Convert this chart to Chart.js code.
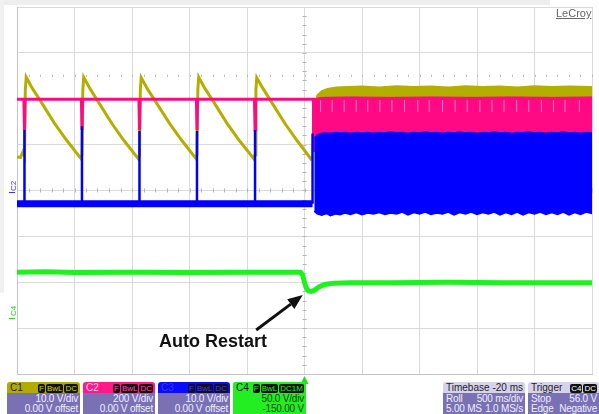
<!DOCTYPE html>
<html>
<head>
<meta charset="utf-8">
<script src="https://cdn.jsdelivr.net/npm/chart.js@4.4.1/dist/chart.umd.min.js"></script>
<style>
    html, body { margin: 0; padding: 0; background: #fff; }
    body { width: 599px; height: 414px; position: relative; overflow: hidden; font-family: "Liberation Sans", Arial, sans-serif; }
    #scope { position: absolute; left: 0; top: 0; }
    .strip-top { position: absolute; left: 0; top: 0; width: 550px; height: 5px; background: #eeeeee; }
    .strip-left { position: absolute; left: 0; top: 0; width: 4px; height: 293px; background: #f1f1f1; }
    .logo { position: absolute; left: 556px; top: 7px; font-size: 11px; color: #666; text-decoration: underline; }
    .tag { position: absolute; font-size: 8px; transform: rotate(-90deg); transform-origin: left top; }
    .tag-mark { position: absolute; width: 6px; height: 1px; }
    .note { position: absolute; left: 159px; top: 331px; font-size: 18px; font-weight: bold; color: #111; }
    .box { position: absolute; top: 382px; height: 32px; border-radius: 3px 3px 0 0; overflow: hidden; font-size: 10px; }
    .box .hd { height: 11px; line-height: 11px; padding: 0 2px 0 3px; display: flex; justify-content: space-between; align-items: center; white-space: nowrap; }
    .box .bd { background: #7a71b5; color: #eeeeff; padding: 1px 2px 0 3px; line-height: 10px; height: 20px; letter-spacing: -0.2px; }
    .box .row { display: flex; justify-content: space-between; white-space: nowrap; }
    .box .rt { text-align: right; white-space: nowrap; }
    .badge { background: #111; border-radius: 2px; padding: 0 1px; font-size: 8px; line-height: 9px; margin-left: 1px; display: inline-block; }
</style>
</head>
<body>
<canvas id="scope" width="599" height="414"></canvas>
<div class="strip-top"></div>
<div class="strip-left"></div>
<div class="logo">LeCroy</div>

<div class="tag" style="left:9px; top:191px; color:#3030ff;">C2</div>
<div class="tag-mark" style="left:9px; top:192px; background:#3030ff;"></div>
<div class="tag" style="left:9px; top:316px; color:#22cc22;">C4</div>
<div class="tag-mark" style="left:9px; top:318px; background:#22cc22;"></div>

<div class="note">Auto Restart</div>

<div class="box" style="left:7px; width:73px;">
    <div class="hd" style="background:#b3aa00; color:#222;"><span>C1</span><span><span class="badge" style="color:#d8d000">F</span><span class="badge" style="color:#d8d000">BwL</span><span class="badge" style="color:#d8d000">DC</span></span></div>
    <div class="bd"><div class="rt">10.0 V/div</div><div class="rt">0.00 V offset</div></div>
</div>
<div class="box" style="left:83px; width:72px;">
    <div class="hd" style="background:#ff1a8c; color:#ffd6ea;"><span>C2</span><span><span class="badge" style="color:#ff4aa5">F</span><span class="badge" style="color:#ff4aa5">BwL</span><span class="badge" style="color:#ff4aa5">DC</span></span></div>
    <div class="bd"><div class="rt">200 V/div</div><div class="rt">0.00 V offset</div></div>
</div>
<div class="box" style="left:158px; width:72px;">
    <div class="hd" style="background:#0a0aff; color:#3a3ad0;"><span>C3</span><span><span class="badge" style="color:#3a3aff">F</span><span class="badge" style="color:#3a3aff">BwL</span><span class="badge" style="color:#3a3aff">DC</span></span></div>
    <div class="bd"><div class="rt">10.0 V/div</div><div class="rt">0.00 V offset</div></div>
</div>
<div class="box" style="left:233px; width:73px; background:#22ee22;">
    <div class="hd" style="background:#22ee22; color:#111; justify-content:flex-start;"><span>C4</span><span style="margin-left:3px"><span class="badge" style="color:#22ee22">F</span><span class="badge" style="color:#22ee22">BwL</span><span class="badge" style="color:#22ee22">DC1M</span></span></div>
    <div class="bd" style="background:#22ee22; color:#114411;"><div class="rt">50.0 V/div</div><div class="rt">-150.00 V</div></div>
</div>
<div class="box" style="left:443px; width:82px;">
    <div class="hd" style="background:#d6d2ee; color:#222;"><span>Timebase</span><span>-20 ms</span></div>
    <div class="bd"><div class="row"><span>Roll</span><span>500 ms/div</span></div><div class="row"><span>5.00 MS</span><span>1.0 MS/s</span></div></div>
</div>
<div class="box" style="left:528px; width:71px;">
    <div class="hd" style="background:#d6d2ee; color:#222;"><span>Trigger</span><span><span class="badge" style="color:#fff">C4</span><span class="badge" style="color:#fff">DC</span></span></div>
    <div class="bd"><div class="row"><span>Stop</span><span>56.0 V</span></div><div class="row"><span>Edge</span><span>Negative</span></div></div>
</div>

<script>
// 화면 단위: x = 0..10 div (500 ms/div), y = 0..8 div

// C1 (노랑) 재시작 전 톱니파
const c1X = [0, 0.06, 0.11, 0.13, 0.145, 0.16, 0.27, 0.40, 0.65, 0.86, 1.11,
             1.13, 1.145, 1.16, 1.27, 1.40, 1.65, 1.86, 2.11,
             2.13, 2.145, 2.16, 2.27, 2.40, 2.65, 2.86, 3.11,
             3.13, 3.145, 3.16, 3.27, 3.40, 3.65, 3.86, 4.12,
             4.14, 4.155, 4.17, 4.28, 4.41, 4.66, 4.87, 5.13];
const c1Y = [4.73, 4.72, 4.86, 4.78, 6.20, 6.47, 6.22, 5.97, 5.47, 5.10, 4.70,
             4.78, 6.20, 6.47, 6.22, 5.96, 5.46, 5.09, 4.69,
             4.78, 6.20, 6.46, 6.21, 5.96, 5.47, 5.10, 4.70,
             4.78, 6.20, 6.47, 6.22, 5.97, 5.47, 5.10, 4.69,
             4.78, 6.20, 6.46, 6.22, 5.96, 5.46, 5.09, 4.66];
// C1 재시작 후 밴드 윗선
const c1BandX = [5.13, 5.15, 5.18, 5.22, 5.30, 5.40, 5.55, 5.75, 6.0, 6.3, 6.6, 6.9, 7.2, 7.5, 7.8, 8.1, 8.4, 8.7, 9.0, 9.3, 9.6, 10];
const c1BandTop = [4.66, 5.45, 5.92, 6.08, 6.17, 6.22, 6.25, 6.26, 6.27, 6.25, 6.28, 6.26, 6.27, 6.25, 6.28, 6.26, 6.27, 6.25, 6.28, 6.26, 6.27, 6.26];

// C2 (분홍) 재시작 전 레벨과 스파이크
const c2X = [0, 0.12, 0.13, 0.14, 1.12, 1.13, 1.14, 2.12, 2.13, 2.14, 3.12, 3.13, 3.14, 4.13, 4.14, 4.15, 5.13, 5.16, 5.175, 5.19];
const c2Y = [5.99, 5.99, 5.32, 5.99, 5.99, 5.32, 5.99, 5.99, 5.32, 5.99, 5.99, 5.32, 5.99, 5.99, 5.32, 5.99, 5.99, 5.99, 4.84, 5.99];
const c2BandX = [5.13, 5.3, 5.8, 6.5, 7.2, 7.9, 8.6, 9.3, 10];
const c2BandTop = [5.99, 6.03, 6.04, 6.03, 6.04, 6.03, 6.04, 6.03, 6.04];
// C2 밴드 안 옅은 하향 펄스 위치
const c2TickX = [5.28, 5.48, 5.69, 5.90, 6.10, 6.31, 6.52, 6.74, 6.97, 7.17, 7.40, 7.62, 7.83, 8.05, 8.26, 8.47, 8.69, 8.90, 9.12, 9.33, 9.53, 9.78];
const c2TickLevel = 5.84;

// C3 (파랑) 기저 레벨, 스파이크, 재시작 후 밴드
const c3BaseX = [0, 5.14];
const c3BaseY = [3.71, 3.71];
const c3SpikeX = [0.13, 1.13, 2.13, 3.13, 4.14, 5.14];
const c3SpikeTop = [5.32, 5.40, 5.30, 5.30, 5.32, 5.24];
const c3BandX = [5.17, 5.22, 5.30, 5.38, 5.45, 5.55, 5.62, 5.70, 5.80, 5.90, 6.00, 6.10, 6.20, 6.30, 6.40, 6.50, 6.60, 6.70, 6.80, 6.90, 7.00, 7.10, 7.20, 7.30, 7.40, 7.50, 7.60, 7.70, 7.80, 7.90, 8.00, 8.10, 8.20, 8.30, 8.40, 8.50, 8.60, 8.70, 8.80, 8.90, 9.00, 9.10, 9.20, 9.30, 9.40, 9.50, 9.60, 9.70, 9.80, 9.90, 10];
const c3BandTop = [5.15, 5.22, 5.25, 5.26, 5.25, 5.27, 5.26, 5.27, 5.25, 5.27, 5.26, 5.27, 5.25, 5.27, 5.26, 5.28, 5.26, 5.27, 5.25, 5.27, 5.26, 5.28, 5.26, 5.27, 5.25, 5.27, 5.26, 5.28, 5.26, 5.27, 5.25, 5.27, 5.26, 5.28, 5.26, 5.27, 5.25, 5.27, 5.26, 5.28, 5.26, 5.27, 5.25, 5.27, 5.26, 5.28, 5.26, 5.27, 5.25, 5.27, 5.26];
const c3BandBottom = [3.55, 3.49, 3.46, 3.50, 3.45, 3.49, 3.47, 3.51, 3.48, 3.52, 3.47, 3.51, 3.49, 3.52, 3.48, 3.51, 3.49, 3.53, 3.47, 3.52, 3.49, 3.53, 3.48, 3.51, 3.49, 3.53, 3.47, 3.52, 3.49, 3.53, 3.48, 3.52, 3.49, 3.53, 3.47, 3.52, 3.48, 3.53, 3.47, 3.52, 3.49, 3.53, 3.48, 3.52, 3.48, 3.53, 3.47, 3.52, 3.48, 3.53, 3.50];

// C4 (초록)
const c4X = [0, 0.5, 1, 2, 3, 4, 4.93, 4.97, 5.0, 5.03, 5.07, 5.12, 5.18, 5.25, 5.35, 5.5, 5.8, 6.5, 7.5, 8.5, 10];
const c4Y = [2.22, 2.23, 2.21, 2.22, 2.21, 2.22, 2.22, 2.15, 2.00, 1.88, 1.81, 1.80, 1.83, 1.90, 1.95, 1.98, 1.99, 1.99, 2.00, 1.99, 1.99];

// 주석 화살표 (꼬리, 끝)
const arrowFrom = { x: 4.16, y: 0.96 };
const arrowTo = { x: 4.97, y: 1.72 };

const COLORS = {
    c1: '#b4ae00',
    c2: '#ff0a84',
    c2Tick: '#ff7ebf',
    c3: '#0000ff',
    c4: '#1ff01f',
    grid: '#dadada',
    border: '#c4c4c4'
};

function pts(xs, ys) {
    return xs.map((x, i) => ({ x, y: ys[i] }));
}

function spikeSegments(xs, tops, base) {
    const out = [];
    xs.forEach((x, i) => {
        out.push({ x, y: base }, { x, y: tops[i] }, { x, y: null });
    });
    return out;
}

// 중심축 눈금, 트리거 마커, 화살표
const scopeDecor = {
    id: 'scopeDecor',
    beforeDatasetsDraw(chart) {
        const { ctx, scales: { x, y } } = chart;
        const cx = x.getPixelForValue(5);
        const cy = y.getPixelForValue(4);
        const ry = y.getPixelForValue(6.5);
        ctx.save();
        ctx.strokeStyle = '#b4b4b4';
        ctx.lineWidth = 1;
        ctx.beginPath();
        for (let v = 0.2; v < 10; v += 0.2) {
            const px = Math.round(x.getPixelForValue(v)) + 0.5;
            ctx.moveTo(px, cy - 2); ctx.lineTo(px, cy + 2);
            ctx.moveTo(px, ry - 1); ctx.lineTo(px, ry + 1);
        }
        for (let v = 0.2; v < 8; v += 0.2) {
            const py = Math.round(y.getPixelForValue(v)) + 0.5;
            ctx.moveTo(cx - 2, py); ctx.lineTo(cx + 2, py);
        }
        ctx.stroke();
        ctx.restore();
    },
    afterDraw(chart) {
        const { ctx, scales: { x, y }, chartArea } = chart;
        ctx.save();
        // 트리거 위치 표시
        const tx = x.getPixelForValue(5);
        ctx.fillStyle = '#22dd22';
        ctx.beginPath();
        ctx.moveTo(tx, chartArea.bottom + 2);
        ctx.lineTo(tx - 4, chartArea.bottom + 10);
        ctx.lineTo(tx + 4, chartArea.bottom + 10);
        ctx.closePath();
        ctx.fill();
        // Auto Restart 화살표
        const x0 = x.getPixelForValue(arrowFrom.x), y0 = y.getPixelForValue(arrowFrom.y);
        const x1 = x.getPixelForValue(arrowTo.x), y1 = y.getPixelForValue(arrowTo.y);
        const ang = Math.atan2(y1 - y0, x1 - x0);
        const len = 15, half = 6;
        const bx = x1 - len * Math.cos(ang), by = y1 - len * Math.sin(ang);
        ctx.strokeStyle = '#111';
        ctx.lineWidth = 3;
        ctx.beginPath();
        ctx.moveTo(x0, y0);
        ctx.lineTo(bx, by);
        ctx.stroke();
        ctx.fillStyle = '#111';
        ctx.beginPath();
        ctx.moveTo(x1, y1);
        ctx.lineTo(bx + half * Math.sin(ang), by - half * Math.cos(ang));
        ctx.lineTo(bx - half * Math.sin(ang), by + half * Math.cos(ang));
        ctx.closePath();
        ctx.fill();
        ctx.restore();
    }
};

const lineDefaults = { showLine: true, pointRadius: 0, tension: 0, spanGaps: false };

new Chart(document.getElementById('scope'), {
    type: 'scatter',
    data: {
        datasets: [
            // C4
            { ...lineDefaults, data: pts(c4X, c4Y), borderColor: COLORS.c4, borderWidth: 5, order: 1 },
            // C3
            { ...lineDefaults, data: spikeSegments(c3SpikeX, c3SpikeTop, 3.71), borderColor: COLORS.c3, borderWidth: 2.5, order: 2 },
            { ...lineDefaults, data: pts(c3BaseX, c3BaseY), borderColor: COLORS.c3, borderWidth: 7, borderCapStyle: 'butt', order: 2 },
            { ...lineDefaults, data: pts(c3BandX, c3BandTop), borderColor: COLORS.c3, borderWidth: 1, backgroundColor: COLORS.c3, fill: '+1', order: 2 },
            { ...lineDefaults, data: pts(c3BandX, c3BandBottom), borderColor: COLORS.c3, borderWidth: 1.5, order: 2 },
            // C2
            { data: c2TickX.map(x => ({ x, y: c2TickLevel })), pointStyle: 'line', pointRadius: 6, rotation: 90, pointBorderColor: COLORS.c2Tick, pointBorderWidth: 1, order: 2.5 },
            { ...lineDefaults, data: pts(c2X, c2Y), borderColor: COLORS.c2, borderWidth: 3, order: 3 },
            { ...lineDefaults, data: pts(c2BandX, c2BandTop), borderColor: COLORS.c2, borderWidth: 1, backgroundColor: COLORS.c2, fill: { value: 5.2 }, order: 3 },
            // C1
            { ...lineDefaults, data: pts(c1X, c1Y), borderColor: COLORS.c1, borderWidth: 3, order: 4 },
            { ...lineDefaults, data: pts(c1BandX, c1BandTop), borderColor: COLORS.c1, borderWidth: 1.5, backgroundColor: COLORS.c1, fill: { value: 5.9 }, order: 4 }
        ]
    },
    options: {
        responsive: false,
        animation: false,
        events: [],
        layout: { padding: { left: 17, top: 7, right: 2, bottom: 40 } },
        plugins: { legend: { display: false }, tooltip: { enabled: false } },
        scales: {
            x: {
                type: 'linear', min: 0, max: 10,
                ticks: { display: false, stepSize: 1 },
                grid: { color: COLORS.grid, drawTicks: false },
                border: { color: COLORS.border }
            },
            y: {
                min: 0, max: 8,
                ticks: { display: false, stepSize: 1 },
                grid: { color: COLORS.grid, drawTicks: false },
                border: { color: COLORS.border }
            }
        }
    },
    plugins: [scopeDecor]
});
</script>
</body>
</html>
